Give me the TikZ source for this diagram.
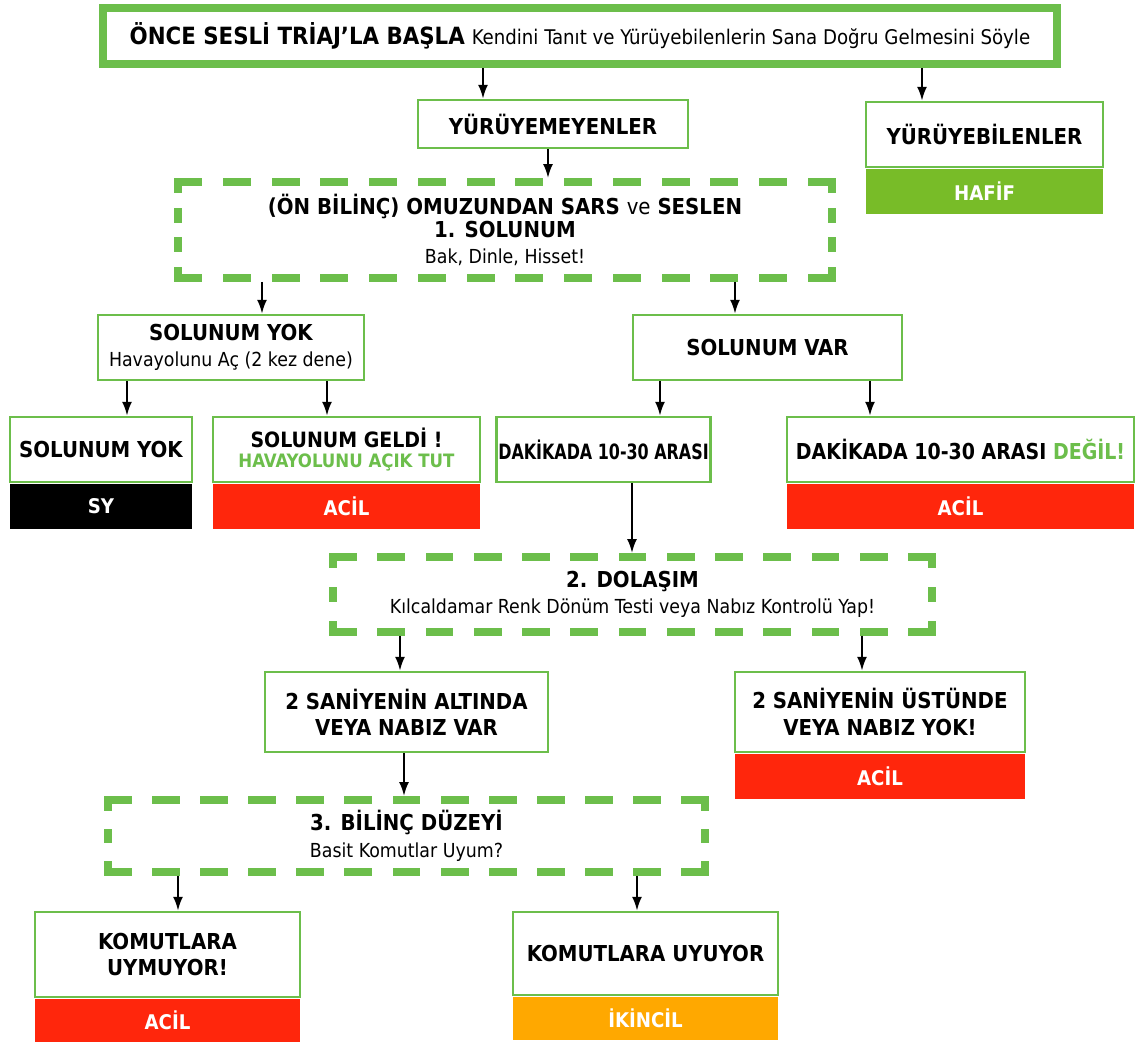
\documentclass[tikz,border=0pt]{standalone}
\usepackage{fontspec}
\setmainfont{DejaVu Sans Condensed}
\usepackage{tikz}
\usetikzlibrary{positioning,arrows.meta}

\definecolor{lgreen}{RGB}{108,190,75}
\definecolor{hafif}{RGB}{120,188,40}
\definecolor{acil}{RGB}{255,38,12}
\definecolor{ikincil}{RGB}{255,168,0}

\newcommand\headfont{\fontsize{12.5}{15}\selectfont\bfseries}
\newcommand\subfont{\fontsize{11}{13}\selectfont\mdseries}
\newcommand\barfont{\fontsize{11.5}{13}\selectfont\bfseries}

\begin{document}
\begin{tikzpicture}[
x=0.02cm, y=-0.02cm,
box/.style={
  draw=lgreen,
  line width=1.4pt,
  fill=white,
  align=center,
  inner sep=1pt,
  font=\headfont
  },
bar/.style={
  inner sep=0pt,
  align=center,
  font=\barfont,
  text=white
  },
dashbox/.style={
  line width=4.5pt,
  align=center,
  inner sep=0pt,
  font=\headfont
  },
dashline/.style={
  draw=lgreen,
  line width=4.5pt,
  line cap=rect
  },
>={Latex[length=2.8mm,width=2mm]}
]
\useasboundingbox (0,0) rectangle (1137,1043);

% start
\node[box, draw=lgreen, line width=5pt, minimum width=19.08cm, minimum height=1.12cm]
  (start) at (580,36) {{\fontsize{13.5}{16}\selectfont ÖNCE SESLİ TRİAJ’LA BAŞLA} {\fontsize{11.5}{13}\selectfont\mdseries Kendini Tanıt ve Yürüyebilenlerin Sana Doğru Gelmesini Söyle}};

\node[box, minimum width=5.4cm, minimum height=0.96cm] (yur) at (553,124) {YÜRÜYEMEYENLER};
\node[box, minimum width=4.74cm, minimum height=1.3cm] (yb) at (984.5,134.5) {YÜRÜYEBİLENLER};
\node[bar, fill=hafif, minimum width=4.74cm, minimum height=0.9cm, below=0pt of yb] (ybbar) {HAFİF};

% 1. solunum
\node[dashbox, minimum width=13.08cm, minimum height=1.92cm] (sol) at (505,230)
  {(ÖN BİLİNÇ) OMUZUNDAN SARS {\mdseries ve} SESLEN\\[-2pt]1. SOLUNUM\\[0pt]{\subfont Bak, Dinle, Hisset!}};

\node[box, minimum width=5.32cm, minimum height=1.3cm] (syok) at (231,347.5)
  {SOLUNUM YOK\\[0pt]{\subfont Havayolunu Aç (2 kez dene)}};
\node[box, minimum width=5.38cm, minimum height=1.3cm] (svar) at (767.5,347.5) {SOLUNUM VAR};

\node[box, minimum width=3.64cm, minimum height=1.3cm] (yok) at (101,449.5) {SOLUNUM YOK};
\node[bar, fill=black, minimum width=3.64cm, minimum height=0.9cm, below=0pt of yok] (yokbar) {SY};
\node[box, font=\fontsize{12}{14}\selectfont\bfseries, minimum width=5.34cm, minimum height=1.3cm] (geldi) at (346.5,449.5)
  {SOLUNUM GELDİ !\\[-3pt]{\fontsize{10.5}{12}\selectfont\color{lgreen}HAVAYOLUNU AÇIK TUT}};
\node[bar, fill=acil, minimum width=5.34cm, minimum height=0.9cm, below=0pt of geldi] (geldibar) {ACİL};
\node[box, font=\fontsize{12}{14}\selectfont\bfseries\addfontfeature{FakeStretch=0.84}, minimum width=4.18cm, minimum height=1.3cm] (dak) at (603.5,449.5) {DAKİKADA 10-30 ARASI};
\node[box, font=\fontsize{12.5}{15}\selectfont\bfseries\addfontfeature{FakeStretch=0.96}, minimum width=6.94cm, minimum height=1.3cm] (degil) at (960.5,449.5)
  {DAKİKADA 10-30 ARASI {\color{lgreen}DEĞİL!}};
\node[bar, fill=acil, minimum width=6.94cm, minimum height=0.9cm, below=0pt of degil] (degilbar) {ACİL};

% 2. dolasim
\node[dashbox, minimum width=11.98cm, minimum height=1.5cm] (dol) at (632.5,594.5)
  {2. DOLAŞIM\\[0pt]{\subfont Kılcaldamar Renk Dönüm Testi veya Nabız Kontrolü Yap!}};

\node[box, minimum width=5.66cm, minimum height=1.6cm] (alt) at (406.5,712)
  {2 SANİYENİN ALTINDA\\VEYA NABIZ VAR};
\node[box, minimum width=5.8cm, minimum height=1.6cm] (ust) at (880,712)
  {2 SANİYENİN ÜSTÜNDE\\VEYA NABIZ YOK!};
\node[bar, fill=acil, minimum width=5.8cm, minimum height=0.9cm, below=0pt of ust] (ustbar) {ACİL};

% 3. bilinc
\node[dashbox, minimum width=11.94cm, minimum height=1.44cm] (bil) at (406.5,836)
  {3. BİLİNÇ DÜZEYİ\\[0pt]{\subfont Basit Komutlar Uyum?}};

\node[box, minimum width=5.3cm, minimum height=1.7cm] (uym) at (167.5,954.5)
  {KOMUTLARA\\UYMUYOR!};
\node[bar, fill=acil, minimum width=5.3cm, minimum height=0.86cm, below=0pt of uym] (uymbar) {ACİL};
\node[box, minimum width=5.3cm, minimum height=1.66cm] (uyu) at (645.5,953.5) {KOMUTLARA UYUYOR};
\node[bar, fill=ikincil, minimum width=5.3cm, minimum height=0.86cm, below=0pt of uyu] (uyubar) {İKİNCİL};

% dashed frames, one side at a time, a dash in every corner
\foreach \n/\w/\h in {sol/13.08/1.92, dol/11.98/1.5, bil/11.94/1.44}
{
  \pgfmathsetmacro\nw{round((\w+0.4)/0.96)}
  \pgfmathsetmacro\offw{(\w-\nw*0.4)/(\nw-1)}
  \pgfmathsetmacro\nh{round((\h+0.25)/0.55)}
  \pgfmathsetmacro\offh{(\h-\nh*0.14)/(\nh-1)}
  \coordinate (nw) at ([xshift=2.25pt,yshift=-2.25pt]\n.north west);
  \coordinate (ne) at ([xshift=-2.25pt,yshift=-2.25pt]\n.north east);
  \coordinate (se) at ([xshift=-2.25pt,yshift=2.25pt]\n.south east);
  \coordinate (sw) at ([xshift=2.25pt,yshift=2.25pt]\n.south west);
  \draw[dashline, dash pattern=on 0.4cm off \offw cm] (nw) -- (ne);
  \draw[dashline, dash pattern=on 0.4cm off \offw cm] (sw) -- (se);
  \draw[dashline, dash pattern=on 0.14cm off \offh cm] (nw) -- (sw);
  \draw[dashline, dash pattern=on 0.14cm off \offh cm] (ne) -- (se);
}

\foreach \a/\b/\x in {start/yur/483, start/yb/922, yur/sol/548, sol/syok/262, sol/svar/735,
  syok/yok/127, syok/geldi/327, svar/dak/660, svar/degil/870, dak/dol/632,
  dol/alt/400, dol/ust/862, alt/bil/404, bil/uym/178, bil/uyu/637}
  \draw[->, line width=1.2pt] (\x,0 |- \a.south) -- (\x,0 |- \b.north);

\end{tikzpicture}
\end{document}
